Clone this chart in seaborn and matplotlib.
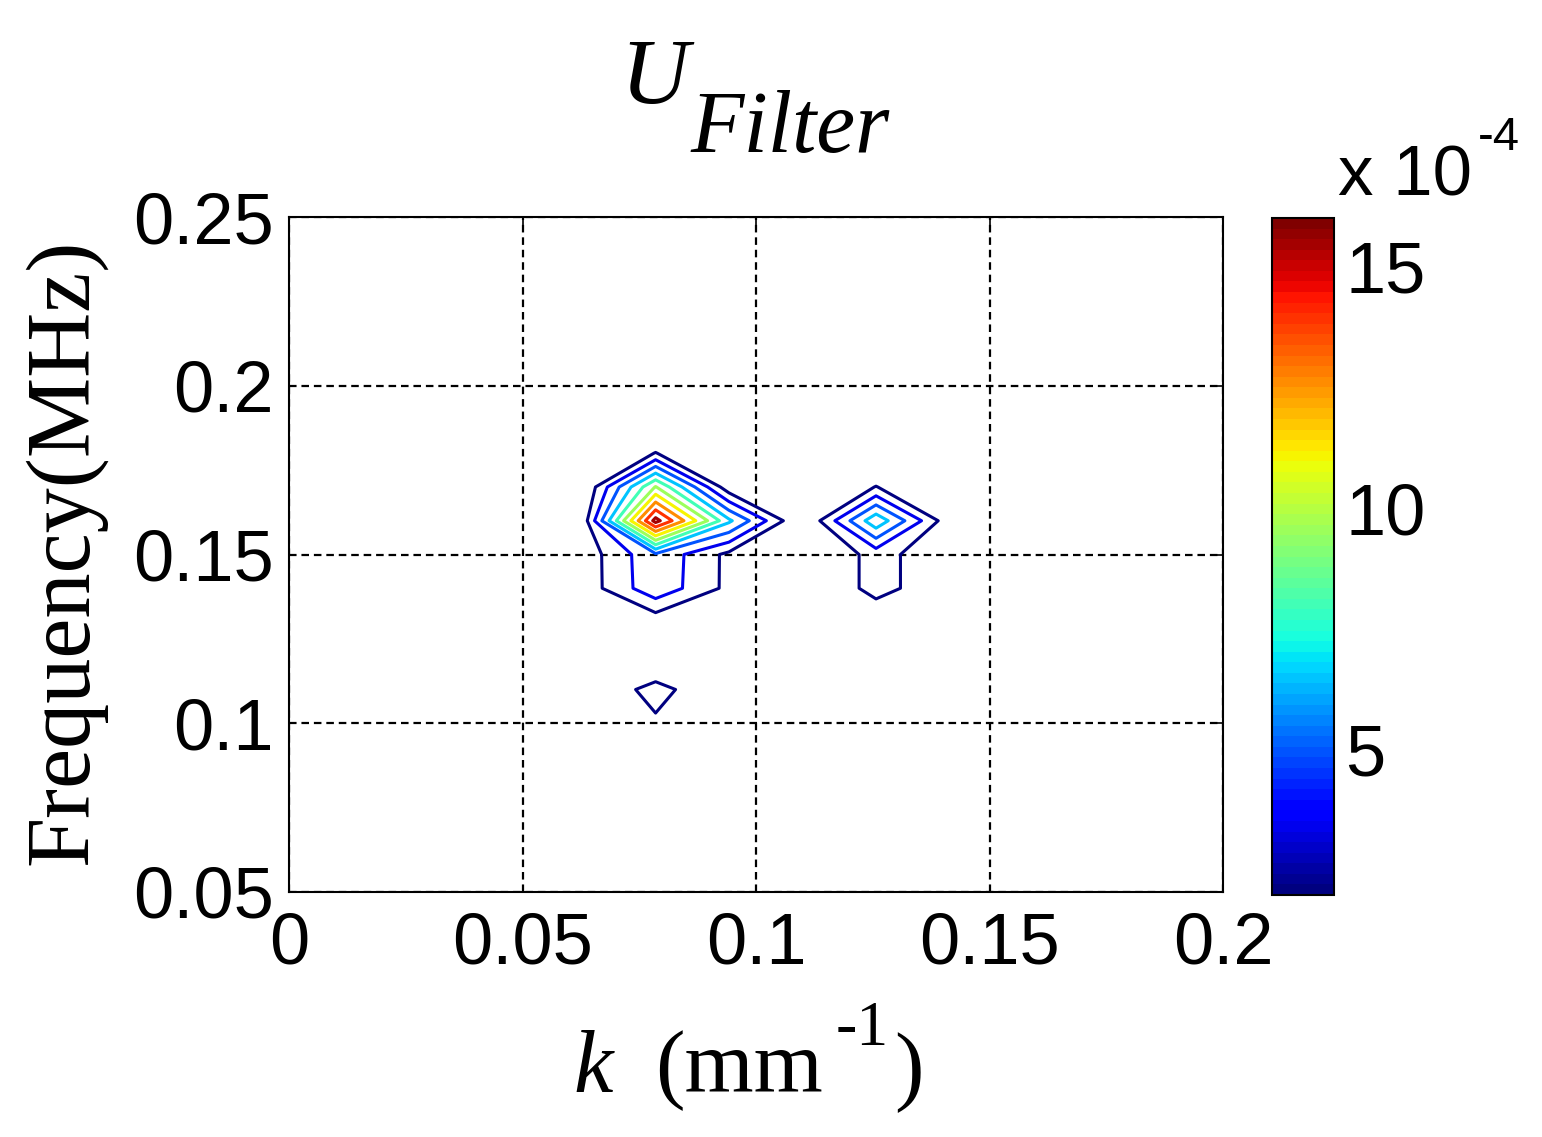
import numpy as np
import matplotlib
matplotlib.use("Agg")
import matplotlib.pyplot as plt
import seaborn as sns
from matplotlib.colors import Normalize
from matplotlib.cm import ScalarMappable

# wavenumber grid (mm^-1) and frequency grid (MHz)
k_values = [0.0471, 0.0628, 0.0785, 0.0942, 0.1100, 0.1257, 0.1414, 0.1571]
freq_values = [0.09, 0.10, 0.11, 0.12, 0.13, 0.14, 0.15, 0.16, 0.17, 0.18, 0.19]

# filtered amplitude (x 1e-4), one row per frequency
u_filter = [
    [0, 0,    0,    0,   0,   0,    0,   0],  # 0.09
    [0, 0,    1.74, 0,   0,   0,    0,   0],  # 0.10
    [0, 0.4,  2.6,  0.4, 0,   0,    0,   0],  # 0.11
    [0, 0,    0,    0,   0,   0,    0,   0],  # 0.12
    [0, 0,    1.0,  0,   0,   0.7,  0,   0],  # 0.13
    [0, 1.03, 4.6,  1.6, 0,   2.6,  0.8, 0],  # 0.14
    [0, 1.03, 4.7,  1.6, 0,   2.6,  0.8, 0],  # 0.15
    [0, 0.97, 16.1, 6.8, 0.3, 7.6,  1.0, 0],  # 0.16
    [0, 0.33, 9.6,  1.0, 0,   2.05, 0,   0],  # 0.17
    [0, 0,    2.05, 0,   0,   0,    0,   0],  # 0.18
    [0, 0,    0,    0,   0,   0,    0,   0],  # 0.19
]
levels = [2, 3.5, 5, 6.5, 8, 9.5, 11, 12.5, 14, 15.5]
c_min, c_max = 2.0, 16.0

x_ticks = [0, 0.05, 0.1, 0.15, 0.2]
x_ticklabels = ["0", "0.05", "0.1", "0.15", "0.2"]
y_ticks = [0.05, 0.1, 0.15, 0.2, 0.25]
y_ticklabels = ["0.05", "0.1", "0.15", "0.2", "0.25"]
cbar_ticks = [5, 10, 15]

sns.set_style("white")
plt.rcParams["font.family"] = ["Liberation Sans", "DejaVu Sans"]
plt.rcParams["text.color"] = "black"
plt.rcParams["xtick.color"] = "black"
plt.rcParams["ytick.color"] = "black"

W, H = 1542, 1137
def fx(px):
    return px / W
def fy(py):
    return 1 - py / H

# seaborn refuses "jet" by name, so take it from matplotlib (64 steps like MATLAB)
jet = matplotlib.colormaps["jet"].resampled(64)
norm = Normalize(vmin=c_min, vmax=c_max)

fig = plt.figure(figsize=(W / 100, H / 100), dpi=100)
ax = fig.add_axes([fx(289), fy(892), (1223 - 289) / W, (892 - 217) / H])

ax.contour(k_values, freq_values, np.array(u_filter), levels=levels,
           cmap=jet, norm=norm, linewidths=2.2)

ax.set_xlim(0, 0.2)
ax.set_ylim(0.05, 0.25)
ax.set_xticks(x_ticks)
ax.set_xticklabels(x_ticklabels)
ax.set_yticks(y_ticks)
ax.set_yticklabels(y_ticklabels)
ax.grid(True, color="black", linestyle=(0, (3.4, 2.2)), linewidth=1.6)
ax.tick_params(direction="in", length=7, width=1.2, labelsize=52,
               top=True, right=True, colors="black")
ax.tick_params(axis="x", pad=14)
ax.tick_params(axis="y", pad=11)
for s in ax.spines.values():
    s.set_visible(True)
    s.set_color("black")
    s.set_linewidth(1.5)

# colorbar
cax = fig.add_axes([fx(1272), fy(895), 62 / W, (895 - 218) / H])
cb = fig.colorbar(ScalarMappable(norm=norm, cmap=jet), cax=cax)
cb.set_ticks(cbar_ticks)
cb.ax.tick_params(direction="in", length=7, width=1.2, labelsize=52, pad=8,
                  left=True, right=True, colors="black")
cb.outline.set_linewidth(1.5)
cb.outline.set_edgecolor("black")
fig.text(fx(1338), fy(196), "x 10", fontsize=51, ha="left", va="baseline")
fig.text(fx(1478), fy(150), "-4", fontsize=34, ha="left", va="baseline")

# title U_Filter
serif = ["Liberation Serif", "DejaVu Serif"]
fig.text(fx(620), fy(103), "U", fontsize=68, family=serif, style="italic",
         ha="left", va="baseline")
fig.text(fx(690), fy(152), "Filter", fontsize=63, family=serif, style="italic",
         ha="left", va="baseline")

# axis labels
fig.text(fx(65), fy(552), "Frequency(MHz)", fontsize=65, family=serif,
         rotation=90, ha="center", va="center")
fig.text(fx(573), fy(1092), "k", fontsize=64, family=serif, style="italic",
         ha="left", va="baseline")
fig.text(fx(655), fy(1092), "(mm", fontsize=64, family=serif,
         ha="left", va="baseline")
fig.text(fx(836), fy(1045), "-1", fontsize=46, family=serif,
         ha="left", va="baseline")
fig.text(fx(894), fy(1094), ")", fontsize=64, family=serif,
         ha="left", va="baseline")

fig.savefig("out.png", dpi=100, facecolor="white")
